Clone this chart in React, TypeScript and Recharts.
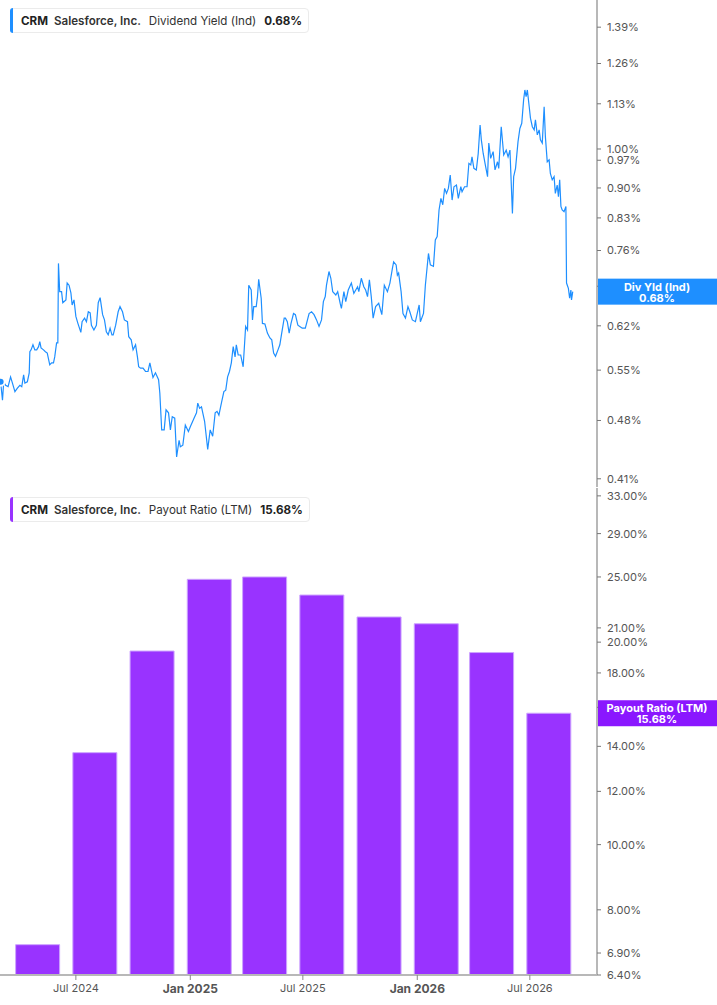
import React from "react";
import { LineChart, Line, BarChart, Bar, XAxis, YAxis, ReferenceLine } from "recharts";

// daily-ish dividend yield (%)
const yieldPoints: [string, number][] = [
  ["2024-03-02", 0.533], ["2024-03-05", 0.507], ["2024-03-07", 0.533], ["2024-03-10", 0.528], ["2024-03-14", 0.526],
  ["2024-03-18", 0.54], ["2024-03-21", 0.531], ["2024-03-25", 0.519], ["2024-03-29", 0.524], ["2024-04-02", 0.528],
  ["2024-04-05", 0.526], ["2024-04-08", 0.543], ["2024-04-10", 0.531], ["2024-04-14", 0.533], ["2024-04-17", 0.546],
  ["2024-04-18", 0.578], ["2024-04-20", 0.581], ["2024-04-23", 0.589], ["2024-04-26", 0.581], ["2024-04-29", 0.581],
  ["2024-05-02", 0.586], ["2024-05-04", 0.594], ["2024-05-06", 0.584], ["2024-05-10", 0.581], ["2024-05-13", 0.578],
  ["2024-05-16", 0.576], ["2024-05-20", 0.558], ["2024-05-23", 0.561], ["2024-05-26", 0.561], ["2024-05-28", 0.57],
  ["2024-05-31", 0.592], ["2024-06-02", 0.592], ["2024-06-03", 0.734], ["2024-06-05", 0.68], ["2024-06-08", 0.68],
  ["2024-06-10", 0.66], ["2024-06-15", 0.665], ["2024-06-17", 0.696], ["2024-06-20", 0.692], ["2024-06-23", 0.678],
  ["2024-06-25", 0.656], ["2024-06-28", 0.665], ["2024-07-01", 0.636], ["2024-07-04", 0.625], ["2024-07-09", 0.609],
  ["2024-07-11", 0.627], ["2024-07-15", 0.633], ["2024-07-18", 0.627], ["2024-07-21", 0.644], ["2024-07-24", 0.642],
  ["2024-07-26", 0.621], ["2024-07-30", 0.613], ["2024-08-03", 0.621], ["2024-08-06", 0.66], ["2024-08-09", 0.669],
  ["2024-08-13", 0.639], ["2024-08-16", 0.63], ["2024-08-19", 0.61], ["2024-08-22", 0.605], ["2024-08-25", 0.616],
  ["2024-08-28", 0.605], ["2024-08-30", 0.605], ["2024-09-03", 0.621], ["2024-09-07", 0.644], ["2024-09-10", 0.653],
  ["2024-09-14", 0.644], ["2024-09-17", 0.63], ["2024-09-22", 0.627], ["2024-09-24", 0.602], ["2024-09-28", 0.597],
  ["2024-10-01", 0.581], ["2024-10-05", 0.589], ["2024-10-08", 0.57], ["2024-10-10", 0.555], ["2024-10-13", 0.553],
  ["2024-10-17", 0.553], ["2024-10-21", 0.548], ["2024-10-25", 0.548], ["2024-10-28", 0.561], ["2024-11-02", 0.539],
  ["2024-11-06", 0.546], ["2024-11-11", 0.536], ["2024-11-13", 0.517], ["2024-11-16", 0.468], ["2024-11-20", 0.468],
  ["2024-11-23", 0.494], ["2024-11-27", 0.49], ["2024-11-30", 0.468], ["2024-12-03", 0.485], ["2024-12-07", 0.483],
  ["2024-12-10", 0.435], ["2024-12-14", 0.455], ["2024-12-16", 0.447], ["2024-12-20", 0.449], ["2024-12-24", 0.474],
  ["2024-12-29", 0.466], ["2025-01-01", 0.472], ["2025-01-07", 0.483], ["2025-01-11", 0.49], ["2025-01-13", 0.503],
  ["2025-01-16", 0.496], ["2025-01-19", 0.498], ["2025-01-24", 0.479], ["2025-01-29", 0.444], ["2025-02-02", 0.468],
  ["2025-02-06", 0.46], ["2025-02-10", 0.49], ["2025-02-13", 0.492], ["2025-02-16", 0.487], ["2025-02-20", 0.503],
  ["2025-02-24", 0.519], ["2025-02-27", 0.521], ["2025-03-02", 0.54], ["2025-03-05", 0.548], ["2025-03-08", 0.561],
  ["2025-03-11", 0.586], ["2025-03-14", 0.57], ["2025-03-16", 0.589], ["2025-03-19", 0.573], ["2025-03-23", 0.573],
  ["2025-03-27", 0.555], ["2025-03-31", 0.619], ["2025-04-03", 0.613], ["2025-04-05", 0.692], ["2025-04-09", 0.683],
  ["2025-04-11", 0.63], ["2025-04-13", 0.653], ["2025-04-17", 0.653], ["2025-04-19", 0.671], ["2025-04-21", 0.703],
  ["2025-04-25", 0.668], ["2025-04-27", 0.624], ["2025-05-01", 0.623], ["2025-05-05", 0.608], ["2025-05-09", 0.6],
  ["2025-05-12", 0.597], ["2025-05-15", 0.576], ["2025-05-18", 0.571], ["2025-05-22", 0.581], ["2025-05-25", 0.589],
  ["2025-05-28", 0.608], ["2025-06-01", 0.633], ["2025-06-03", 0.633], ["2025-06-06", 0.627], ["2025-06-09", 0.608],
  ["2025-06-12", 0.624], ["2025-06-16", 0.641], ["2025-06-19", 0.639], ["2025-06-23", 0.621], ["2025-06-26", 0.619],
  ["2025-06-30", 0.616], ["2025-07-05", 0.616], ["2025-07-11", 0.641], ["2025-07-15", 0.644], ["2025-07-19", 0.639],
  ["2025-07-23", 0.63], ["2025-07-27", 0.619], ["2025-07-31", 0.63], ["2025-08-03", 0.662], ["2025-08-06", 0.671],
  ["2025-08-08", 0.692], ["2025-08-12", 0.718], ["2025-08-15", 0.705], ["2025-08-18", 0.68], ["2025-08-23", 0.674],
  ["2025-08-26", 0.68], ["2025-08-30", 0.659], ["2025-09-01", 0.65], ["2025-09-05", 0.68], ["2025-09-08", 0.662],
  ["2025-09-12", 0.683], ["2025-09-17", 0.696], ["2025-09-21", 0.677], ["2025-09-27", 0.689], ["2025-09-29", 0.68],
  ["2025-10-03", 0.705], ["2025-10-07", 0.689], ["2025-10-10", 0.683], ["2025-10-13", 0.671], ["2025-10-16", 0.702],
  ["2025-10-19", 0.671], ["2025-10-22", 0.633], ["2025-10-26", 0.653], ["2025-10-31", 0.659], ["2025-11-05", 0.639],
  ["2025-11-09", 0.692], ["2025-11-14", 0.68], ["2025-11-18", 0.696], ["2025-11-22", 0.724], ["2025-11-24", 0.737],
  ["2025-11-28", 0.731], ["2025-11-30", 0.711], ["2025-12-02", 0.715], ["2025-12-06", 0.68], ["2025-12-09", 0.641],
  ["2025-12-13", 0.633], ["2025-12-17", 0.653], ["2025-12-20", 0.644], ["2025-12-24", 0.63], ["2025-12-29", 0.627],
  ["2026-01-04", 0.656], ["2026-01-06", 0.627], ["2026-01-11", 0.641], ["2026-01-14", 0.692], ["2026-01-19", 0.754],
  ["2026-01-22", 0.731], ["2026-01-27", 0.728], ["2026-01-30", 0.782], ["2026-02-02", 0.789], ["2026-02-05", 0.848],
  ["2026-02-08", 0.875], ["2026-02-11", 0.86], ["2026-02-14", 0.899], ["2026-02-17", 0.887], ["2026-02-20", 0.899],
  ["2026-02-23", 0.932], ["2026-02-26", 0.871], ["2026-03-01", 0.903], ["2026-03-05", 0.907], ["2026-03-08", 0.875],
  ["2026-03-12", 0.903], ["2026-03-14", 0.891], ["2026-03-18", 0.903], ["2026-03-22", 0.903], ["2026-03-25", 0.962],
  ["2026-03-28", 0.958], ["2026-03-30", 0.979], ["2026-04-02", 0.949], ["2026-04-06", 0.945], ["2026-04-09", 0.988],
  ["2026-04-12", 1.067], ["2026-04-14", 1.025], ["2026-04-17", 0.988], ["2026-04-21", 0.953], ["2026-04-24", 0.928],
  ["2026-04-26", 1.016], ["2026-04-29", 0.975], ["2026-05-03", 0.993], ["2026-05-06", 0.945], ["2026-05-10", 0.966],
  ["2026-05-12", 0.949], ["2026-05-16", 1.062], ["2026-05-20", 0.984], ["2026-05-24", 0.997], ["2026-05-27", 0.979],
  ["2026-05-30", 0.997], ["2026-06-03", 0.84], ["2026-06-05", 0.928], ["2026-06-08", 0.949], ["2026-06-12", 1.02],
  ["2026-06-15", 1.057], ["2026-06-18", 1.072], ["2026-06-21", 1.142], ["2026-06-23", 1.173], ["2026-06-25", 1.152],
  ["2026-06-27", 1.173], ["2026-06-30", 1.121], ["2026-07-02", 1.087], ["2026-07-05", 1.062], ["2026-07-08", 1.053],
  ["2026-07-10", 1.082], ["2026-07-13", 1.039], ["2026-07-16", 1.053], ["2026-07-18", 1.025], ["2026-07-21", 1.016],
  ["2026-07-24", 1.121], ["2026-07-26", 1.034], ["2026-07-29", 0.966], ["2026-08-01", 0.971], ["2026-08-03", 0.936],
  ["2026-08-06", 0.92], ["2026-08-09", 0.928], ["2026-08-11", 0.887], ["2026-08-14", 0.907], ["2026-08-16", 0.879],
  ["2026-08-18", 0.92], ["2026-08-20", 0.856], ["2026-08-22", 0.848], ["2026-08-25", 0.844], ["2026-08-28", 0.856],
  ["2026-08-29", 0.696], ["2026-09-01", 0.686], ["2026-09-03", 0.668], ["2026-09-05", 0.683], ["2026-09-06", 0.665],
  ["2026-09-08", 0.68],
];

// quarterly payout ratio (LTM, %), fiscal quarter ends
const payoutDates = [
  "2024-04-30", "2024-07-31", "2024-10-31", "2025-01-31", "2025-04-30",
  "2025-07-31", "2025-10-31", "2026-01-31", "2026-04-30", "2026-07-31",
];
const payoutValues = [7.1, 13.7, 19.4, 24.8, 25.0, 23.5, 21.8, 21.3, 19.3, 15.68];

const yieldTicks = [0.41, 0.48, 0.55, 0.62, 0.69, 0.76, 0.83, 0.9, 0.97, 1.0, 1.13, 1.26, 1.39];
const payoutTicks = [6.4, 6.9, 8, 10, 12, 14, 16, 18, 20, 21, 25, 29, 33];

const xTickDates = ["2024-07-01", "2025-01-01", "2025-07-01", "2026-01-01", "2026-07-01"];
const xTickLabels = ["Jul 2024", "Jan 2025", "Jul 2025", "Jan 2026", "Jul 2026"];

const X_DOMAIN = [Date.parse("2024-03-01"), Date.parse("2026-10-17")];
const YIELD_DOMAIN = [0.401, 1.496];
const PAYOUT_DOMAIN = [6.4, 33.9];

const BLUE = "#1e8fff";
const PURPLE = "#9933ff";
const FONT = "Inter, 'Noto Sans', sans-serif";

const yieldData = yieldPoints.map(([d, v]) => ({ t: Date.parse(d), v }));
const payoutData = payoutDates.map((d, i) => ({ t: Date.parse(d), v: payoutValues[i] }));
const xTicks = xTickDates.map((d) => Date.parse(d));

const lastYield = yieldPoints[yieldPoints.length - 1][1];
const lastPayout = payoutValues[payoutValues.length - 1];

const pct = (v: number) => `${v.toFixed(2)}%`;

const axisTick = { fontSize: 11, fill: "#555", fontFamily: FONT };

const DateTick = (props: any) => {
  const { x, y, payload } = props;
  const i = xTicks.indexOf(payload.value);
  const label = xTickLabels[i] ?? "";
  const major = label.startsWith("Jan");
  return (
    <text
      x={x}
      y={y}
      dy={major ? 11 : 10}
      textAnchor="middle"
      fill="#555"
      fontSize={major ? 12 : 11}
      fontWeight={major ? 700 : 400}
      fontFamily={FONT}
    >
      {label}
    </text>
  );
};

const AxisBadge = (props: any) => {
  const { viewBox, color, title, value } = props;
  if (!viewBox) return null;
  const left = viewBox.x + viewBox.width + 1;
  const y = viewBox.y;
  return (
    <g>
      <rect x={left} y={y - 13} width={119} height={26} fill={color} />
      <text x={left + 59} y={y - 1} textAnchor="middle" fill="#fff" fontSize={11} fontWeight={700} fontFamily={FONT}>
        {title}
      </text>
      <text x={left + 59} y={y + 10} textAnchor="middle" fill="#fff" fontSize={11} fontWeight={700} fontFamily={FONT}>
        {value}
      </text>
    </g>
  );
};

// transparent copy of a panel's scales, used only to draw the last-value badge above the axis labels
const BadgeOverlay = ({ top, height, data, domain, value, color, title, marginTop }: any) => (
  <div style={{ position: "absolute", left: 0, top, pointerEvents: "none" }}>
    <LineChart width={717} height={height} data={data} margin={{ top: marginTop, right: 0, bottom: 0, left: 0 }}>
      <XAxis dataKey="t" type="number" domain={X_DOMAIN} allowDataOverflow height={0} tick={false} tickLine={false} axisLine={false} />
      <YAxis
        orientation="right"
        width={120}
        type="number"
        scale="log"
        domain={domain}
        allowDataOverflow
        tick={false}
        tickLine={false}
        axisLine={false}
      />
      <Line dataKey="v" stroke="none" dot={false} isAnimationActive={false} />
      <ReferenceLine
        y={value}
        stroke="none"
        label={(p: any) => <AxisBadge {...p} color={color} title={title} value={pct(value)} />}
      />
    </LineChart>
  </div>
);

const Legend = ({ top, color, metric, value }: { top: number; color: string; metric: string; value: string }) => (
  <div
    style={{
      position: "absolute",
      left: 10,
      top,
      height: 25,
      display: "flex",
      alignItems: "center",
      boxSizing: "border-box",
      border: "1px solid #ebebeb",
      borderRadius: 4,
      background: "rgba(255,255,255,0.92)",
      padding: "0 6px 0 10px",
      fontFamily: FONT,
      fontSize: 11.6,
      color: "#222",
      whiteSpace: "nowrap",
    }}
  >
    <span
      style={{ position: "absolute", left: -1, top: -1, bottom: -1, width: 3, background: color, borderRadius: "3px 0 0 3px" }}
    />
    <span style={{ fontWeight: 700 }}>CRM</span>
    <span style={{ fontWeight: 600, marginLeft: 6, color: "#333" }}>Salesforce, Inc.</span>
    <span style={{ marginLeft: 8, color: "#333" }}>{metric}</span>
    <span style={{ fontWeight: 700, marginLeft: 8 }}>{value}</span>
  </div>
);

export default function App() {
  return (
    <div style={{ position: "absolute", left: 0, top: 0, width: 717, height: 1005, background: "#fff" }}>
      <LineChart width={717} height={487} data={yieldData} margin={{ top: 0, right: 0, bottom: 0, left: 0 }}>
        <XAxis
          dataKey="t"
          type="number"
          domain={X_DOMAIN}
          allowDataOverflow
          tick={false}
          tickLine={false}
          height={0}
          axisLine={{ stroke: "#e2e2e2", strokeWidth: 2 }}
        />
        <YAxis
          orientation="right"
          width={120}
          type="number"
          scale="log"
          domain={YIELD_DOMAIN}
          allowDataOverflow
          ticks={yieldTicks}
          interval={0}
          tickFormatter={pct}
          tick={axisTick}
          tickSize={4}
          tickMargin={6}
          tickLine={{ stroke: "#777" }}
          axisLine={{ stroke: "#b8b8b8", strokeWidth: 2 }}
        />
        <Line type="linear" dataKey="v" stroke={BLUE} strokeWidth={1.2} dot={false} isAnimationActive={false} />
      </LineChart>

      <BarChart width={717} height={518} data={payoutData} margin={{ top: 1, right: 0, bottom: 0, left: 0 }}>
        <XAxis
          dataKey="t"
          type="number"
          domain={X_DOMAIN}
          allowDataOverflow
          ticks={xTicks}
          interval={0}
          tick={<DateTick />}
          height={30}
          tickSize={5}
          tickMargin={2}
          tickLine={{ stroke: "#888" }}
          axisLine={{ stroke: "#b8b8b8", strokeWidth: 2 }}
        />
        <YAxis
          orientation="right"
          width={120}
          type="number"
          scale="log"
          domain={PAYOUT_DOMAIN}
          allowDataOverflow
          ticks={payoutTicks}
          interval={0}
          tickFormatter={pct}
          tick={axisTick}
          tickSize={4}
          tickMargin={6}
          tickLine={{ stroke: "#777" }}
          axisLine={{ stroke: "#b8b8b8", strokeWidth: 2 }}
        />
        <Bar dataKey="v" fill={PURPLE} stroke="#cda4ff" strokeWidth={1} barSize={44} isAnimationActive={false} />
      </BarChart>

      <BadgeOverlay
        top={0}
        height={487}
        marginTop={0}
        data={yieldData}
        domain={YIELD_DOMAIN}
        value={lastYield}
        color={BLUE}
        title="Div Yld (Ind)"
      />
      <BadgeOverlay
        top={487}
        height={488}
        marginTop={1}
        data={payoutData}
        domain={PAYOUT_DOMAIN}
        value={lastPayout}
        color="#8a17ff"
        title="Payout Ratio (LTM)"
      />

      <Legend top={8} color={BLUE} metric="Dividend Yield (Ind)" value={pct(lastYield)} />
      <Legend top={497} color={PURPLE} metric="Payout Ratio (LTM)" value={pct(lastPayout)} />
    </div>
  );
}
